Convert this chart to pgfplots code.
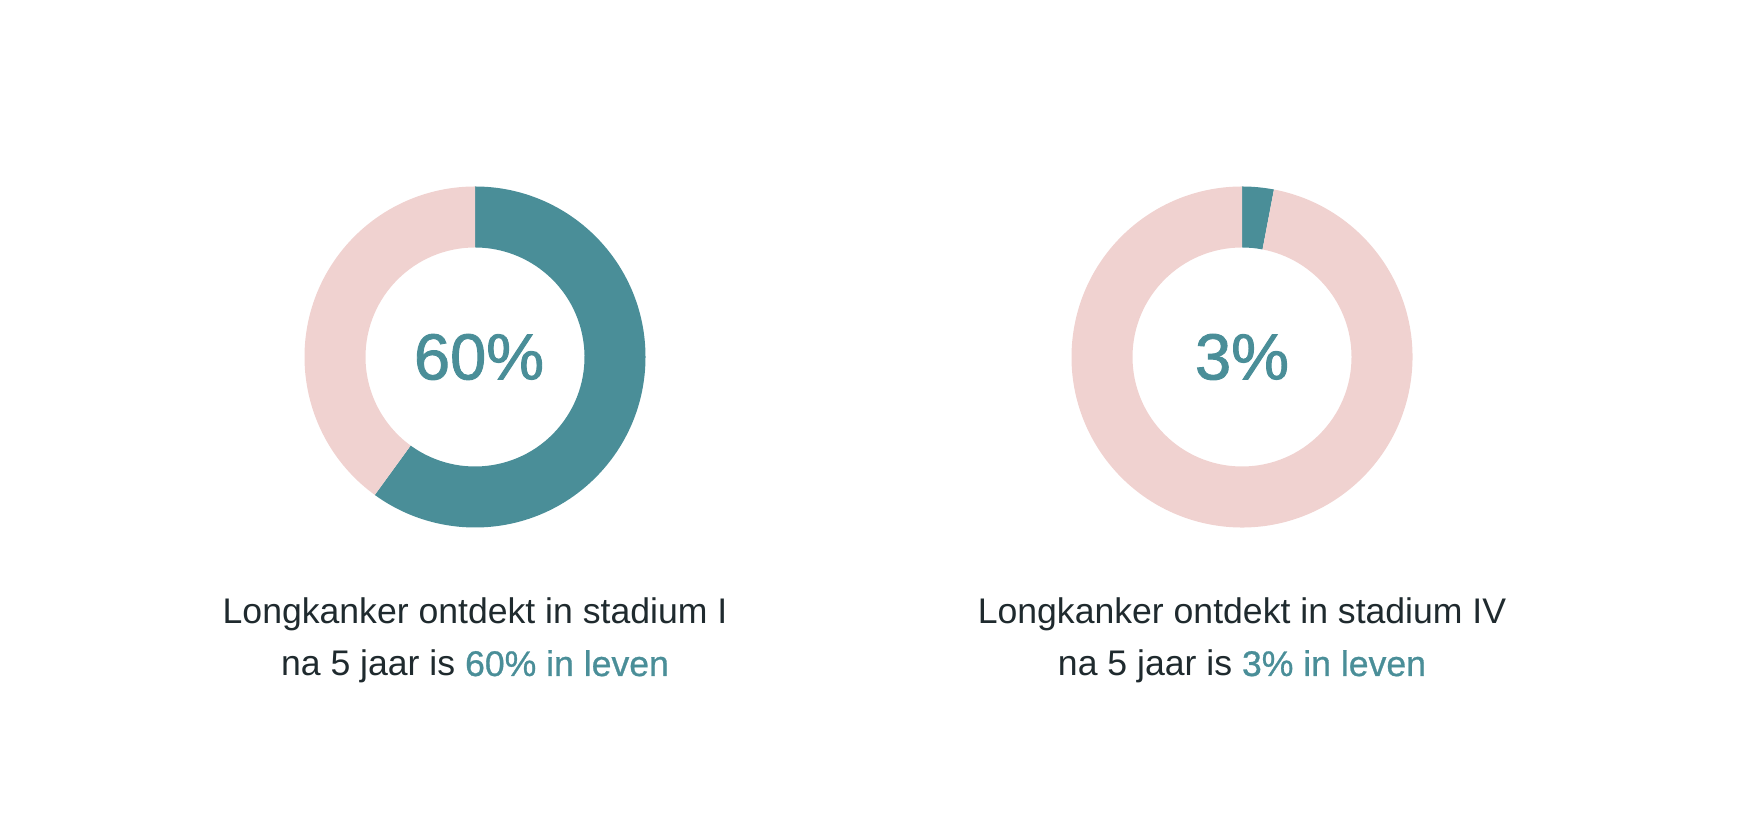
\documentclass[border=0pt]{standalone}
\usepackage{pgfplots}
\pgfplotsset{compat=1.18}
\usepackage{pgfplotstable}
\usepackage{fontspec}
\setmainfont{Liberation Sans}
\newfontfamily\mediumfont[FakeBold=1.4]{Liberation Sans}
\newfontfamily\accentfont[FakeBold=0.8]{Liberation Sans}

\definecolor{survteal}{HTML}{4A8E98}
\definecolor{blush}{HTML}{F0D2D0}
\definecolor{ink}{HTML}{1F2A2E}

% five-year survival (%) per stage, with the x position of each ring
\pgfplotstableread{
cx    value
475   60
1242  3
}\survival
\pgfplotstablegetelem{0}{value}\of\survival \let\vA\pgfplotsretval
\pgfplotstablegetelem{1}{value}\of\survival \let\vB\pgfplotsretval
\pgfplotstablegetelem{0}{cx}\of\survival \let\cA\pgfplotsretval
\pgfplotstablegetelem{1}{cx}\of\survival \let\cB\pgfplotsretval

% ring: outer radius 85.25pt, inner radius 54.75pt, clockwise from the top
\newcommand\donut[2]{%
  \fill[survteal] (axis cs:#1,476) ++(90:85.25pt)
    arc[start angle=90, end angle={90-3.6*#2}, radius=85.25pt]
    -- ++({270-3.6*#2}:30.5pt)
    arc[start angle={90-3.6*#2}, end angle=90, radius=54.75pt] -- cycle;
  \fill[blush] (axis cs:#1,476) ++({90-3.6*#2}:85.25pt)
    arc[start angle={90-3.6*#2}, end angle=-270, radius=85.25pt]
    -- ++(270:30.5pt)
    arc[start angle=-270, end angle={90-3.6*#2}, radius=54.75pt] -- cycle;
}

\begin{document}
\begin{tikzpicture}
\begin{axis}[
  x=0.5pt, y=0.5pt,
  xmin=0, xmax=1749, ymin=0, ymax=833,
  hide axis, clip=false,
]
\path (rel axis cs:0,0) rectangle (rel axis cs:1,1);

\donut{\cA}{\vA}
\donut{\cB}{\vB}

\node[font=\mediumfont\fontsize{32.5}{36}\selectfont, text=survteal] at (axis cs:\cA+4,476) {\vA\%};
\node[font=\mediumfont\fontsize{32.5}{36}\selectfont, text=survteal] at (axis cs:\cB,476) {\vB\%};

\node[anchor=base, font=\fontsize{17.8}{26}\selectfont, text=ink] at (axis cs:\cA,209) {Longkanker ontdekt in stadium I};
\node[anchor=base, font=\fontsize{17.8}{26}\selectfont, text=ink] at (axis cs:\cA,157) {na 5 jaar is {\accentfont\color{survteal}\vA\% in leven}};

\node[anchor=base, font=\fontsize{17.8}{26}\selectfont, text=ink] at (axis cs:\cB,209) {Longkanker ontdekt in stadium IV};
\node[anchor=base, font=\fontsize{17.8}{26}\selectfont, text=ink] at (axis cs:\cB,157) {na 5 jaar is {\accentfont\color{survteal}\vB\% in leven}};
\end{axis}
\end{tikzpicture}
\end{document}
